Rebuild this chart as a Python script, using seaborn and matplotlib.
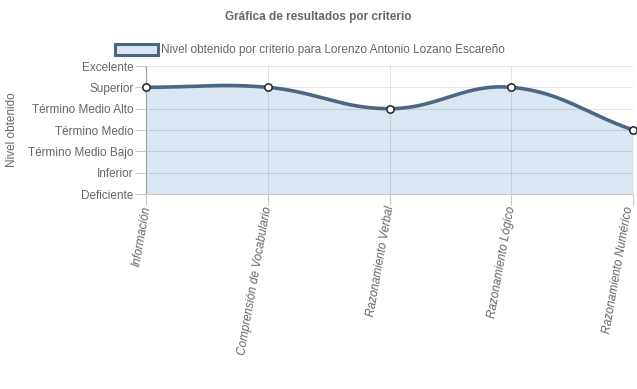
import numpy as np
import matplotlib
matplotlib.use("Agg")
import matplotlib.pyplot as plt
import matplotlib.transforms as mtransforms
import seaborn as sns
from matplotlib.patches import Patch

categories = ["Información", "Comprensión de Vocabulario", "Razonamiento Verbal",
              "Razonamiento Lógico", "Razonamiento Numérico"]
levels = ["Deficiente", "Inferior", "Término Medio Bajo", "Término Medio",
          "Término Medio Alto", "Superior", "Excelente"]
values = [5, 5, 4, 5, 3]
series_label = "Nivel obtenido por criterio para Lorenzo Antonio Lozano Escareño"

sns.set_theme(style="white")
plt.rcParams['font.family'] = ['Liberation Sans', 'DejaVu Sans']

LINE = "#4b6784"
FILL = "#dae7f3"
TXT = "#666666"
FS = 8.5

fig = plt.figure(figsize=(6.37, 3.89), dpi=100)
ax = fig.add_axes([146/637, 1-194/389, (633-146)/637, (194-66)/389])

# Chart.js-like bezier smoothing (tension 0.4) in pixel-like space
sx, sy = 121.75, 21.33
xs = np.arange(len(values), dtype=float)
ys = np.array(values, dtype=float)
px, py = xs*sx, ys*sy
t = 0.4
cps = []
n = len(px)
for i in range(n):
    pv = (px[max(i-1, 0)], py[max(i-1, 0)])
    cu = (px[i], py[i])
    nx = (px[min(i+1, n-1)], py[min(i+1, n-1)])
    d01 = np.hypot(cu[0]-pv[0], cu[1]-pv[1])
    d12 = np.hypot(nx[0]-cu[0], nx[1]-cu[1])
    s = d01 + d12
    s01 = d01/s if s else 0
    s12 = d12/s if s else 0
    fa, fb = t*s01, t*s12
    prevc = (cu[0]-fa*(nx[0]-pv[0]), cu[1]-fa*(nx[1]-pv[1]))
    nextc = (cu[0]+fb*(nx[0]-pv[0]), cu[1]+fb*(nx[1]-pv[1]))
    cps.append((prevc, nextc))
cx, cy = [], []
tt = np.linspace(0, 1, 60)
for i in range(n-1):
    p0 = np.array([px[i], py[i]]); p3 = np.array([px[i+1], py[i+1]])
    p1 = np.array(cps[i][1]); p2 = np.array(cps[i+1][0])
    pts = ((1-tt)**3)[:, None]*p0 + (3*(1-tt)**2*tt)[:, None]*p1 + (3*(1-tt)*tt**2)[:, None]*p2 + (tt**3)[:, None]*p3
    cx.extend(pts[:, 0]/sx); cy.extend(pts[:, 1]/sy)
cx, cy = np.array(cx), np.array(cy)

ax.fill_between(cx, 0, cy, color=FILL, zorder=1, lw=0)
sns.lineplot(x=cx, y=cy, ax=ax, color=LINE, lw=2.6, zorder=3, sort=False)
sns.scatterplot(x=xs, y=ys, ax=ax, s=28, color="white", edgecolor="#222222",
                linewidth=1.1, zorder=5, clip_on=False)

ax.set_xlim(0, len(categories)-1)
ax.set_ylim(0, len(levels)-1)
ax.set_xticks(xs)
ax.set_xticklabels(categories, rotation=80, ha="right", rotation_mode="anchor",
                   fontstyle="italic", color=TXT, fontsize=FS)
ax.set_yticks(range(len(levels)))
ax.set_yticklabels(levels, color=TXT, fontsize=FS)
ax.tick_params(axis="both", length=8, width=0.8, color="#c8c8c8", pad=1, left=True, bottom=True)
ax.tick_params(axis="x", pad=0)
labs = ax.get_xticklabels()
for i, lab in enumerate(labs):
    dx = -9 if i == len(labs) - 1 else -5
    shift = mtransforms.ScaledTranslation(dx/100, 0, fig.dpi_scale_trans)
    lab.set_transform(lab.get_transform() + shift)
ax.grid(True, color="#000000", alpha=0.1, lw=0.8, zorder=2)
ax.set_axisbelow(False)
for sp in ["top", "right"]:
    ax.spines[sp].set_visible(False)
ax.spines["left"].set_color("#b5b5b5")
ax.spines["bottom"].set_color("#c8c8c8")
ax.spines["left"].set_linewidth(0.9)
ax.spines["bottom"].set_linewidth(0.8)
for l in ax.get_xgridlines() + ax.get_ygridlines():
    l.set_zorder(2)

ax.set_ylabel("Nivel obtenido", color=TXT, fontsize=FS)
ax.yaxis.set_label_coords(-(146-18)/(633-146), 0.5)

fig.text(318/637, 1-17/389, "Gráfica de resultados por criterio", ha="center", va="center",
         fontsize=FS, fontweight="bold", color=TXT)
handle = Patch(facecolor=FILL, edgecolor=LINE, linewidth=2.2)
fig.legend([handle], [series_label], loc="center", bbox_to_anchor=(310/637, 1-50/389),
           frameon=False, fontsize=FS, handlelength=3.6, handleheight=1.1, handletextpad=0.3,
           labelcolor=TXT)

fig.savefig("out.png", dpi=100)
